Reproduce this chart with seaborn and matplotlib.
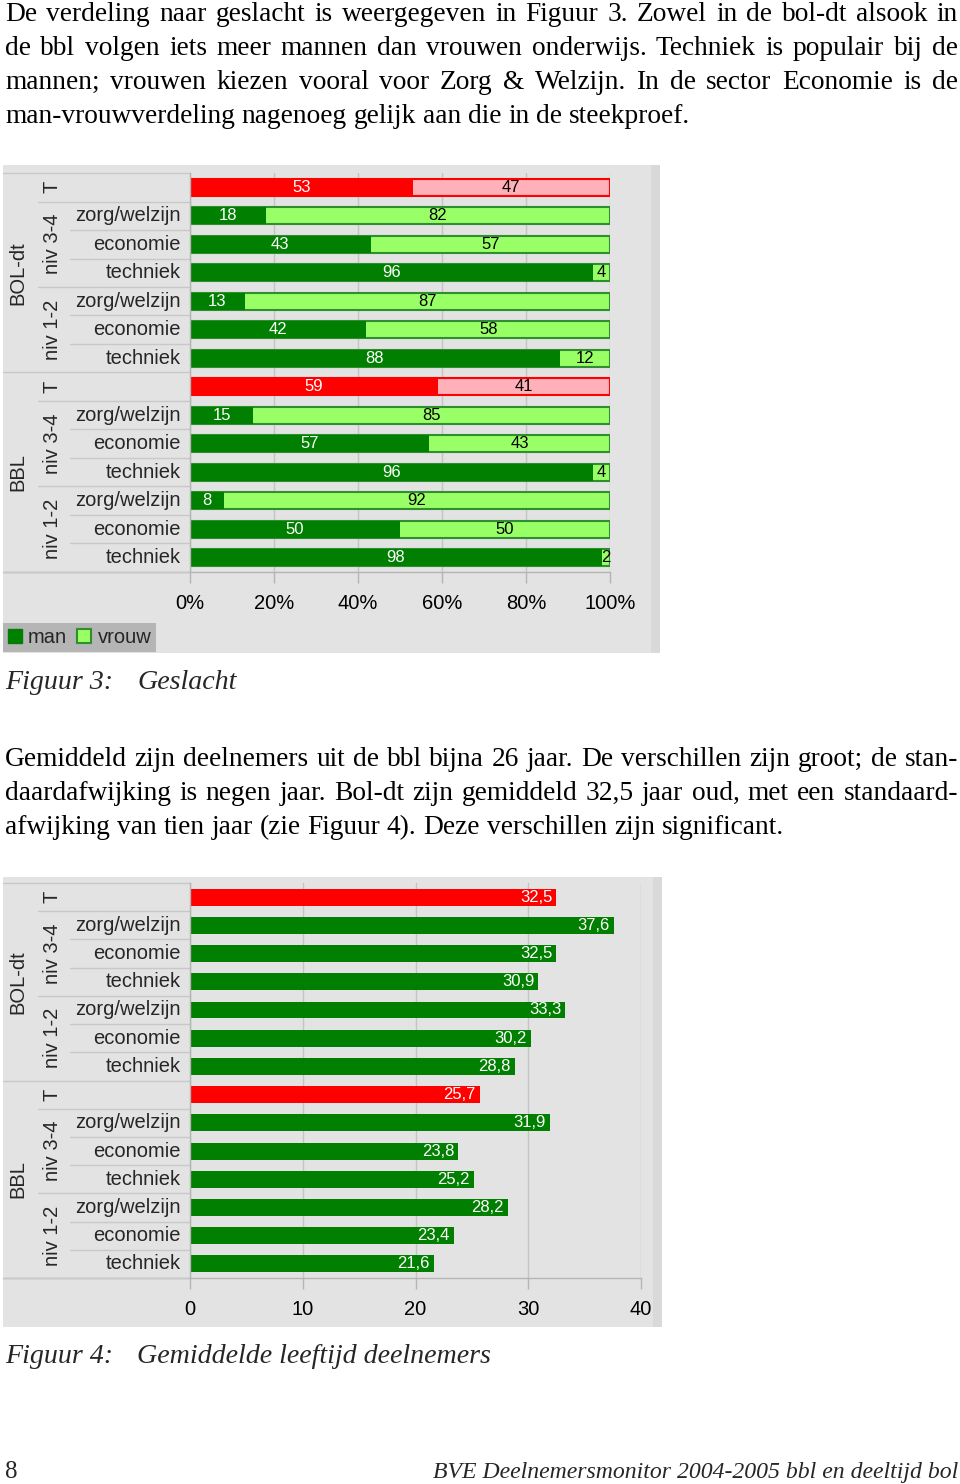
import matplotlib
matplotlib.use("Agg")
import matplotlib.pyplot as plt
import matplotlib.transforms as mtrans
from matplotlib.patches import Rectangle, Patch
import seaborn as sns
import pandas as pd

# ---------------- data ----------------
outer_groups = ["BOL-dt", "BBL"]
mid_groups = ["niv 3-4", "niv 1-2"]
sectors = ["zorg/welzijn", "economie", "techniek"]

man_pct = [53, 18, 43, 96, 13, 42, 88, 59, 15, 57, 96, 8, 50, 98]
vrouw_pct = [47, 82, 57, 4, 87, 58, 12, 41, 85, 43, 4, 92, 50, 2]
mean_age = [32.5, 37.6, 32.5, 30.9, 33.3, 30.2, 28.8,
            25.7, 31.9, 23.8, 25.2, 28.2, 23.4, 21.6]

pct_ticks = [0, 20, 40, 60, 80, 100]
pct_ticklabels = ["0%", "20%", "40%", "60%", "80%", "100%"]
age_ticks = [0, 10, 20, 30, 40]
age_ticklabels = ["0", "10", "20", "30", "40"]

para1 = [
    "De verdeling naar geslacht is weergegeven in Figuur 3. Zowel in de bol-dt alsook in",
    "de bbl volgen iets meer mannen dan vrouwen onderwijs. Techniek is populair bij de",
    "mannen; vrouwen kiezen vooral voor Zorg & Welzijn. In de sector Economie is de",
    "man-vrouwverdeling nagenoeg gelijk aan die in de steekproef.",
]
para2 = [
    "Gemiddeld zijn deelnemers uit de bbl bijna 26 jaar. De verschillen zijn groot; de stan-",
    "daardafwijking is negen jaar. Bol-dt zijn gemiddeld 32,5 jaar oud, met een standaard-",
    "afwijking van tien jaar (zie Figuur 4). Deze verschillen zijn significant.",
]
caption1 = ("Figuur 3:", "Geslacht")
caption2 = ("Figuur 4:", "Gemiddelde leeftijd deelnemers")
footer_left = "8"
footer_right = "BVE Deelnemersmonitor 2004-2005 bbl en deeltijd bol"

# build the row structure (top to bottom)
row_labels, row_is_total = [], []
for g in outer_groups:
    row_labels.append("T"); row_is_total.append(True)
    for m in mid_groups:
        for s in sectors:
            row_labels.append(s); row_is_total.append(False)
row_ids = [f"r{i}" for i in range(len(row_labels))]

# ---------------- style ----------------
sns.set_theme(style="white")
plt.rcParams["font.family"] = ["Liberation Sans", "DejaVu Sans"]
SERIF = ["Liberation Serif", "DejaVu Serif"]

DARK = "#007f00"
LIGHT = "#99ff66"
LIGHT_EDGE = "#2f8f2f"
RED = "#ff0000"
PINK = "#ffb0b8"
PANEL = "#e3e3e3"
SHADOW = "#d9d9d9"
GRID = "#c4c4c4"
SEP = "#c8c8c8"

W, H = 960, 1484
fig = plt.figure(figsize=(W / 100, H / 100), dpi=100, facecolor="white")
bg = fig.add_axes([0, 0, 1, 1], zorder=0)
bg.set_xlim(0, W)
bg.set_ylim(H, 0)
bg.axis("off")


def make_axes(x0, y0, x1, y1):
    ax = fig.add_axes([x0 / W, 1 - y1 / H, (x1 - x0) / W, (y1 - y0) / H], zorder=2)
    ax.set_facecolor("none")
    return ax


# ---------------- text helpers ----------------
renderer = fig.canvas.get_renderer()
FS_BODY = 19.7
FS_CAP = 20.2


def justified(lines, y0, x0=5, x1=958, step=34):
    for k, line in enumerate(lines):
        y = y0 + step * k
        words = line.split(" ")
        texts = [bg.text(0, y, w, family=SERIF, fontsize=FS_BODY, va="baseline",
                         ha="left", color="black") for w in words]
        widths = [t.get_window_extent(renderer).width for t in texts]
        if k < len(lines) - 1 and len(words) > 1:
            gap = (x1 - x0 - sum(widths)) / (len(words) - 1)
        else:
            gap = FS_BODY * 100 / 72 * 0.25
        x = x0
        for t, w in zip(texts, widths):
            t.set_x(x)
            x += w + gap


justified(para1, 21)
justified(para2, 766)

for (a, b), yb in ((caption1, 689), (caption2, 1363)):
    bg.text(5, yb, a, family=SERIF, style="italic", fontsize=FS_CAP, va="baseline")
    bg.text(137, yb, b, family=SERIF, style="italic", fontsize=FS_CAP, va="baseline")

bg.text(5, 1478, footer_left, family=SERIF, fontsize=18, va="baseline")
bg.text(958, 1478, footer_right, family=SERIF, style="italic", fontsize=17.1,
        va="baseline", ha="right")

# ---------------- panels ----------------
bg.add_patch(Rectangle((3, 165), 657, 488, facecolor=PANEL, edgecolor="none"))
bg.add_patch(Rectangle((651, 165), 9, 488, facecolor=SHADOW, edgecolor="none"))
bg.add_patch(Rectangle((3, 877), 659, 450, facecolor=PANEL, edgecolor="none"))
bg.add_patch(Rectangle((653, 877), 9, 450, facecolor=SHADOW, edgecolor="none"))


def hier_labels(ax):
    tr = mtrans.blended_transform_factory(bg.transData, ax.transData)
    n = len(row_labels)
    for i, lab in enumerate(row_labels):
        if not row_is_total[i]:
            ax.text(181, i, lab, transform=tr, ha="right", va="center", fontsize=14.5)
    per_group = 1 + len(mid_groups) * len(sectors)
    for gi, g in enumerate(outer_groups):
        start = gi * per_group
        ax.text(18, start + (per_group - 1) / 2, g, transform=tr, rotation=90,
                ha="center", va="center", fontsize=14.5)
        ax.text(52, start, "T", transform=tr, rotation=90, ha="center",
                va="center", fontsize=14.5)
        for mi, m in enumerate(mid_groups):
            s0 = start + 1 + mi * len(sectors)
            ax.text(52, s0 + (len(sectors) - 1) / 2, m, transform=tr, rotation=90,
                    ha="center", va="center", fontsize=14.5)
    # separator lines
    for b in range(n + 1):
        y = b - 0.5
        if b % per_group == 0:
            x0 = 3
        elif (b % per_group - 1) % len(sectors) == 0:
            x0 = 38
        else:
            x0 = 70
        ax.plot([x0, 190], [y, y], transform=tr, color=SEP, lw=1, clip_on=False)


def style_axes(ax, xmax, ticks, ticklabels):
    ax.set_xlim(0, xmax)
    ax.set_ylim(len(row_labels) - 0.5, -0.5)
    ax.set_xticks(ticks)
    ax.set_xticklabels(ticklabels)
    ax.set_yticks([])
    ax.set_xlabel("")
    ax.set_ylabel("")
    ax.xaxis.grid(True, color=GRID, lw=1)
    ax.yaxis.grid(False)
    ax.set_axisbelow(True)
    for s in ("top", "right"):
        ax.spines[s].set_visible(False)
    for s in ("left", "bottom"):
        ax.spines[s].set_color("#b5b5b5")
        ax.spines[s].set_linewidth(1)
    ax.tick_params(axis="x", bottom=True, length=8, width=1, color="#b5b5b5",
                   labelsize=14.5, pad=8, labelcolor="black")


# ---------------- chart 1: gender ----------------
ax1 = make_axes(190, 173, 610, 572)
df1 = pd.DataFrame({
    "row": row_ids,
    "man": man_pct,
    "total": [m + v for m, v in zip(man_pct, vrouw_pct)],
})
light_pal = {r: (PINK if t else LIGHT) for r, t in zip(row_ids, row_is_total)}
dark_pal = {r: (RED if t else DARK) for r, t in zip(row_ids, row_is_total)}
sns.barplot(data=df1, x="total", y="row", hue="row", palette=light_pal,
            dodge=False, legend=False, orient="h", width=0.6, saturation=1,
            errorbar=None, linewidth=1.5, ax=ax1)
for p in ax1.patches:
    i = int(round(p.get_y() + p.get_height() / 2))
    p.set_edgecolor(RED if row_is_total[i] else LIGHT_EDGE)
sns.barplot(data=df1, x="man", y="row", hue="row", palette=dark_pal,
            dodge=False, legend=False, orient="h", width=0.6, saturation=1,
            errorbar=None, linewidth=0, ax=ax1)
for i, (m, v) in enumerate(zip(man_pct, vrouw_pct)):
    ax1.text(m / 2, i, str(m), ha="center", va="center", color="white", fontsize=12)
    ax1.text(m + v / 2, i, str(v), ha="center", va="center", color="black", fontsize=12)
style_axes(ax1, 100, pct_ticks, pct_ticklabels)
hier_labels(ax1)
bg.plot([3, 190], [572, 572], color="#b5b5b5", lw=1)

fig.legend(handles=[Patch(facecolor=DARK, edgecolor=DARK),
                    Patch(facecolor=LIGHT, edgecolor=LIGHT_EDGE, linewidth=1.5)],
           labels=["man", "vrouw"], loc="lower left",
           bbox_to_anchor=(3 / W, 1 - 652 / H), bbox_transform=fig.transFigure,
           ncol=2, frameon=True, facecolor="#b5b5b5", edgecolor="none",
           fancybox=False, framealpha=1, fontsize=14.5, handlelength=0.7,
           handleheight=0.7, handletextpad=0.3, columnspacing=0.5,
           borderpad=0.25, borderaxespad=0)

# ---------------- chart 2: mean age ----------------
ax2 = make_axes(190, 883, 641, 1278)
df2 = pd.DataFrame({"row": row_ids, "age": mean_age})
sns.barplot(data=df2, x="age", y="row", hue="row", palette=dark_pal,
            dodge=False, legend=False, orient="h", width=0.6, saturation=1,
            errorbar=None, linewidth=0, ax=ax2)
for i, a in enumerate(mean_age):
    ax2.annotate(f"{a:.1f}".replace(".", ","), (a, i), xytext=(-3, 0),
                 textcoords="offset points", ha="right", va="center",
                 color="white", fontsize=12)
style_axes(ax2, 40, age_ticks, age_ticklabels)
hier_labels(ax2)
bg.plot([3, 190], [1278, 1278], color="#b5b5b5", lw=1)

fig.savefig("out.png", dpi=100, facecolor="white")
